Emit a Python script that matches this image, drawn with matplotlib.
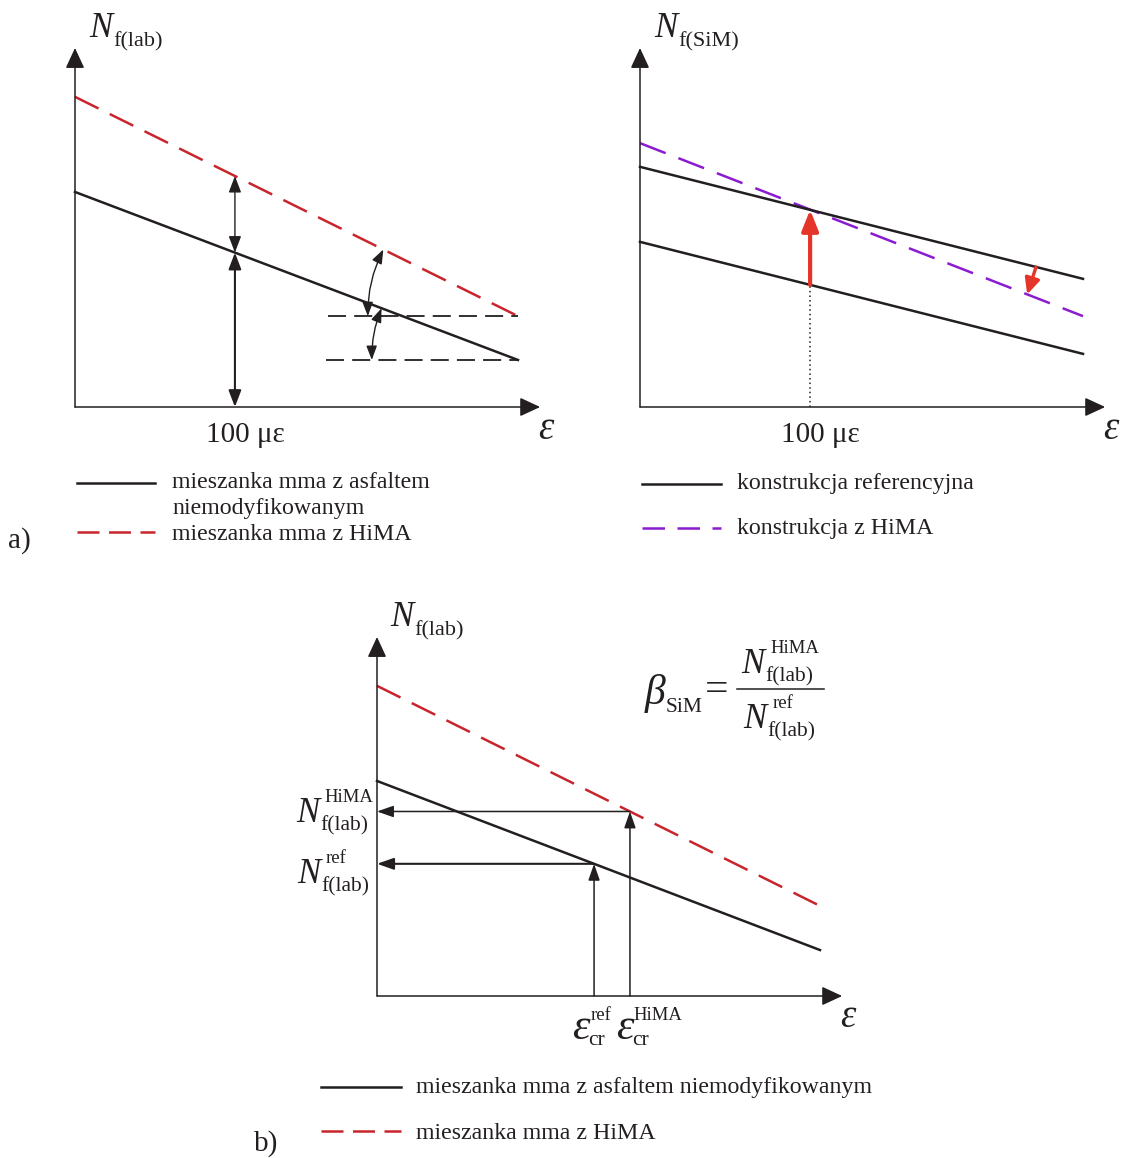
import numpy as np
import matplotlib
matplotlib.use('Agg')
import matplotlib.pyplot as plt
from matplotlib.lines import Line2D

plt.rcParams['font.family'] = ['Liberation Serif', 'DejaVu Serif']

# ---------------- data (schematic, arbitrary units) ----------------
# panel a) left : laboratory fatigue lines
lab_x = [0.0, 10.0]
lab_ref_N = [5.99, 1.31]
lab_hima_N = [8.64, 2.53]
lab_strain_100 = 3.61
lab_angle_x_hima = [6.96, 6.61]     # arc: on HiMA line -> on horizontal
lab_angle_x_ref = [6.92, 6.70]      # arc: on ref line -> on horizontal
lab_horiz_start = [5.71, 5.67]

# panel a) right : SiM fatigue lines
sim_x = [0.0, 10.0]
sim_upper_N = [6.69, 3.57]
sim_lower_N = [4.60, 1.48]
sim_hima_N = [7.35, 2.53]
sim_strain_100 = 3.84
sim_shift_x = [8.94, 8.74]

# panel b)
b_x = [0.0, 10.0]
b_ref_N = [5.99, 1.28]
b_hima_N = [8.64, 2.51]
eps_cr_ref = 4.90
eps_cr_hima = 5.71

legend_a_left = ['mieszanka mma z asfaltem\nniemodyfikowanym', 'mieszanka mma z HiMA']
legend_a_right = ['konstrukcja referencyjna', 'konstrukcja z HiMA']
legend_b = ['mieszanka mma z asfaltem niemodyfikowanym', 'mieszanka mma z HiMA']
strain_label = '100 με'

# ---------------- style ----------------
K = '#231f20'
RED = '#c8252c'
PUR = '#8a1bd0'
RARR = '#e5352a'
W, H = 1126, 1158
XU, YU = 44.3, 35.9
XMAX, YMAX = 10.5, 10.0
LEG = 17.2
LW = 1.8

fig = plt.figure(figsize=(W / 100, H / 100), dpi=100)
renderer = fig.canvas.get_renderer()

def T(px, py, s, size, ha='left', va='baseline', **kw):
    return fig.text(px / W, 1 - py / H, s, fontsize=size, ha=ha, va=va, color=K, **kw)

def comp(px, py, base, size, sub=None, sup=None, ssub=15, ssup=13.2,
         sub_dy=8, sup_dy=-20, sub_dx=1, sup_dx=6, ha='left'):
    """base symbol (italic) with upright subscript / superscript"""
    tb = T(0, 0, base, size, style='italic')
    bw = tb.get_window_extent(renderer).width
    ext = bw
    ts = tp = None
    if sub:
        ts = T(0, 0, sub, ssub)
        ext = max(ext, bw + sub_dx + ts.get_window_extent(renderer).width)
    if sup:
        tp = T(0, 0, sup, ssup)
        ext = max(ext, bw + sup_dx + tp.get_window_extent(renderer).width)
    x0 = px if ha == 'left' else px - ext
    tb.set_position((x0 / W, 1 - py / H))
    if ts is not None:
        ts.set_position(((x0 + bw + sub_dx) / W, 1 - (py + sub_dy) / H))
    if tp is not None:
        tp.set_position(((x0 + bw + sup_dx) / W, 1 - (py + sup_dy) / H))

def panel(ox, oy):
    ax = fig.add_axes([ox / W, 1 - oy / H, XMAX * XU / W, YMAX * YU / H])
    ax.set_xlim(0, XMAX)
    ax.set_ylim(0, YMAX)
    ax.axis('off')
    kw = dict(arrowstyle='-|>,head_length=1.25,head_width=0.58', color=K, lw=1.1,
              shrinkA=0, shrinkB=0, mutation_scale=10)
    ax.annotate('', xy=(XMAX, 0), xytext=(0, 0), arrowprops=kw, annotation_clip=False)
    ax.annotate('', xy=(0, YMAX), xytext=(0, 0), arrowprops=kw, annotation_clip=False)
    return ax

def arrow(ax, p0, p1, style='-|>', hl=0.85, hw=0.32, lw=1.1, color=K, rad=None):
    kw = dict(arrowstyle=f'{style},head_length={hl},head_width={hw}', color=color, lw=lw,
              shrinkA=0, shrinkB=0, mutation_scale=10)
    if rad is not None:
        kw['connectionstyle'] = f'arc3,rad={rad}'
    ax.annotate('', xy=p1, xytext=p0, arrowprops=kw, annotation_clip=False)

def leg_line(x0, x1, y, color, ls='-'):
    fig.add_artist(Line2D([x0 / W, x1 / W], [1 - y / H, 1 - y / H], color=color, lw=LW, ls=ls))

red_dash = (0, (10.5, 5.0))
pur_dash = (0, (11.0, 5.5))
blk_dash = (0, (10, 4.5))

# ================= panel a) left =================
axL = panel(75, 407)
axL.plot(lab_x, lab_hima_N, color=RED, lw=LW, ls=red_dash, clip_on=False)
axL.plot(lab_x, lab_ref_N, color=K, lw=LW, clip_on=False)
yr = np.interp(lab_strain_100, lab_x, lab_ref_N)
yh = np.interp(lab_strain_100, lab_x, lab_hima_N)
arrow(axL, (lab_strain_100, yr), (lab_strain_100, 0), style='<|-|>', lw=1.5, hl=1.0, hw=0.38)
arrow(axL, (lab_strain_100, yh), (lab_strain_100, yr), style='<|-|>', lw=1.0, hl=1.0, hw=0.38)
h_end = lab_hima_N[-1]
r_end = lab_ref_N[-1]
axL.plot([lab_horiz_start[0], lab_x[-1]], [h_end, h_end], color=K, lw=1.3, ls=blk_dash, clip_on=False)
axL.plot([lab_horiz_start[1], lab_x[-1]], [r_end, r_end], color=K, lw=1.3, ls=blk_dash, clip_on=False)
arrow(axL, (lab_angle_x_hima[0], np.interp(lab_angle_x_hima[0], lab_x, lab_hima_N)),
      (lab_angle_x_hima[1], h_end), style='<|-|>', lw=1.0, rad=0.12)
arrow(axL, (lab_angle_x_ref[0], np.interp(lab_angle_x_ref[0], lab_x, lab_ref_N)),
      (lab_angle_x_ref[1], r_end), style='<|-|>', lw=1.0, rad=0.10)

comp(89, 37, 'N', 25, sub='f(lab)', ssub=16, sub_dy=9)
T(245, 442, strain_label, 21, ha='center')
T(546, 439, 'ε', 28, ha='center', style='italic')

l1, l2 = legend_a_left[0].split('\n')
leg_line(77, 155, 483, K)
leg_line(77, 155, 532, RED, (0, (8.8, 3.8)))
T(172, 488, l1, LEG)
T(172, 514, l2, LEG)
T(172, 540, legend_a_left[1], LEG)
T(8, 548, 'a)', 21)

# ================= panel a) right =================
axR = panel(640, 407)
axR.plot(sim_x, sim_hima_N, color=PUR, lw=LW, ls=pur_dash, clip_on=False)
axR.plot(sim_x, sim_upper_N, color=K, lw=LW, clip_on=False)
axR.plot(sim_x, sim_lower_N, color=K, lw=LW, clip_on=False)
yl = np.interp(sim_strain_100, sim_x, sim_lower_N)
yu = np.interp(sim_strain_100, sim_x, sim_upper_N)
axR.plot([sim_strain_100, sim_strain_100], [0, yl], color=K, lw=1.1, ls=(0, (1, 2)), clip_on=False)
arrow(axR, (sim_strain_100, yl), (sim_strain_100, yu), hl=1.25, hw=0.5, lw=3.0, color=RARR)
arrow(axR, (sim_shift_x[0], np.interp(sim_shift_x[0], sim_x, sim_upper_N)),
      (sim_shift_x[1], np.interp(sim_shift_x[1], sim_x, sim_hima_N)), hl=0.95, hw=0.45, lw=2.4, color=RARR)

comp(654, 37, 'N', 25, sub='f(SiM)', ssub=16, sub_dy=9)
T(820, 442, strain_label, 21, ha='center')
T(1111, 439, 'ε', 28, ha='center', style='italic')

leg_line(642, 721, 484, K)
leg_line(642, 721, 528, PUR, (0, (9, 5)))
T(737, 489, legend_a_right[0], LEG)
T(737, 534, legend_a_right[1], LEG)

# ================= panel b) =================
axB = panel(377, 996)
axB.plot(b_x, b_hima_N, color=RED, lw=LW, ls=red_dash, clip_on=False)
axB.plot(b_x, b_ref_N, color=K, lw=LW, clip_on=False)
yb_ref = np.interp(eps_cr_ref, b_x, b_ref_N)
yb_hima = np.interp(eps_cr_hima, b_x, b_hima_N)
arrow(axB, (eps_cr_ref, 0), (eps_cr_ref, yb_ref), lw=1.1, hl=1.0, hw=0.35)
arrow(axB, (eps_cr_hima, 0), (eps_cr_hima, yb_hima), lw=1.1, hl=1.0, hw=0.35)
arrow(axB, (eps_cr_ref, yb_ref), (0, yb_ref), lw=1.5, hl=1.0, hw=0.35)
arrow(axB, (eps_cr_hima, yb_hima), (0, yb_hima), lw=1.1, hl=1.0, hw=0.35)

comp(390, 626, 'N', 25, sub='f(lab)', ssub=16, sub_dy=9)
T(848, 1027, 'ε', 28, ha='center', style='italic')
comp(373, 822, 'N', 25, sub='f(lab)', sup='HiMA', ssub=15.5, ssup=13.5, sub_dy=8, sup_dy=-20, sup_dx=5, ha='right')
comp(369, 883, 'N', 25, sub='f(lab)', sup='ref', ssub=15.5, ssup=13.5, sub_dy=8, sup_dy=-20, sup_dx=6, ha='right')
comp(572, 1039, 'ε', 32, sub='cr', sup='ref', ssub=15.5, ssup=13.5, sub_dy=6, sup_dy=-19, sub_dx=-1, sup_dx=1)
comp(616, 1039, 'ε', 32, sub='cr', sup='HiMA', ssub=15.5, ssup=13.5, sub_dy=6, sup_dy=-19, sub_dx=-1, sup_dx=0)

# beta_SiM = N^HiMA / N^ref
comp(645, 704, 'β', 30, sub='SiM', ssub=15.5, sub_dy=8, sub_dx=0)
T(717, 701, '=', 30, ha='center')
fig.add_artist(Line2D([737 / W, 824 / W], [1 - 689 / H, 1 - 689 / H], color=K, lw=1.1))
comp(741, 673, 'N', 25, sub='f(lab)', sup='HiMA', ssub=15.5, ssup=13.5, sub_dy=8, sup_dy=-20, sup_dx=6)
comp(743, 728, 'N', 25, sub='f(lab)', sup='ref', ssub=15.5, ssup=13.5, sub_dy=8, sup_dy=-20, sup_dx=6)

leg_line(321, 401, 1087, K)
leg_line(321, 401, 1131, RED, (0, (8.8, 3.8)))
T(416, 1093, legend_b[0], LEG)
T(416, 1139, legend_b[1], LEG)
T(254, 1151, 'b)', 21)

fig.savefig('out.png', dpi=100)
